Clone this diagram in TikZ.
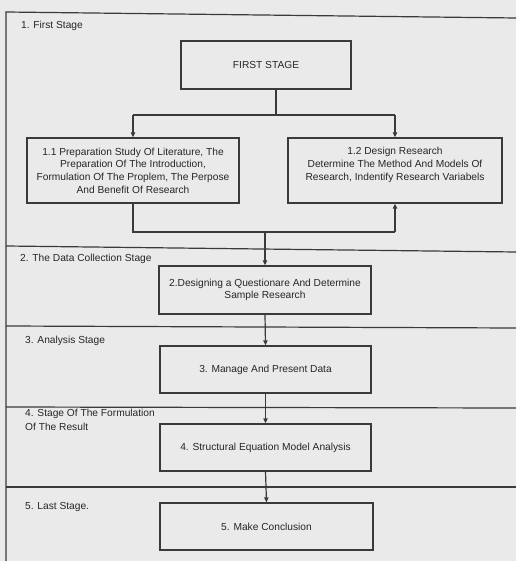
\documentclass[tikz,border=0pt]{standalone}
\usepackage{fontspec}
\setmainfont{Liberation Sans}
\usetikzlibrary{arrows.meta}
\definecolor{bg}{HTML}{EAEAEA}
\definecolor{ink}{HTML}{3A3A3A}
\definecolor{txt}{HTML}{262626}
\tikzset{
  stagebox/.style={draw=ink, line width=1.2pt, fill=none, align=center, inner sep=2pt,
    text=txt, font=\fontsize{10.2}{12.7}\selectfont},
  boxtext/.style={align=center, inner sep=0pt, text=txt, font=\fontsize{10.2}{12.7}\selectfont},
  stagelabel/.style={anchor=west, inner sep=0pt, align=left, text=txt,
    font=\fontsize{10.2}{13.5}\selectfont},
  link/.style={draw=ink, line width=1.2pt},
  arr/.style={link, -{Triangle[length=5pt,width=4.2pt]}},
  frame/.style={draw=ink, line width=1.2pt}
}
\begin{document}
\begin{tikzpicture}[x=1pt,y=-1pt]
\fill[bg] (0,0) rectangle (516,561);
\useasboundingbox (0,0) rectangle (516,561);
% frame and stage dividers
\draw[frame] (6,561) -- (6,12) -- (516,18);
\draw[frame] (6,246) -- (516,252);
\draw[frame] (6,326) -- (516,328);
\draw[frame] (6,407) -- (516,408);
\draw[frame] (6,487) -- (516,487);
% stage labels
\node[stagelabel] (l1) at (21,26) {1. First Stage};
\node[stagelabel] (l2) at (20,259) {2. The Data Collection Stage};
\node[stagelabel] (l3) at (25,341) {3. Analysis Stage};
\node[stagelabel] (l4) at (25,420) {4. Stage Of The Formulation\\Of The Result};
\node[stagelabel] (l5) at (25,507) {5. Last Stage.};
% boxes
\node[stagebox, minimum width=170pt, minimum height=48pt] (first) at (266,65) {FIRST STAGE};
\node[stagebox, minimum width=212pt, minimum height=65pt] (b11) at (133,170.5)
  {1.1 Preparation Study Of Literature, The\\Preparation Of The Introduction,\\Formulation Of The Proplem, The Perpose\\And Benefit Of Research};
\node[stagebox, minimum width=214pt, minimum height=65pt] (b12) at (395,170.5) {};
\node[boxtext] (b12t) at (395,165)
  {1.2 Design Research\\Determine The Method And Models Of\\Research, Indentify Research Variabels};
\node[stagebox, minimum width=212pt, minimum height=48pt] (b2) at (265,290)
  {2.Designing a Questionare And Determine\\Sample Research};
\node[stagebox, minimum width=211pt, minimum height=47pt] (b3) at (265.5,369.5) {3. Manage And Present Data};
\node[stagebox, minimum width=211pt, minimum height=47pt] (b4) at (265.5,447.5) {4. Structural Equation Model Analysis};
\node[stagebox, minimum width=213pt, minimum height=47pt] (b5) at (266.5,526.5) {5. Make Conclusion};
% connectors
\coordinate (j1) at (276,115);
\coordinate (j1l) at (b11.north |- j1);
\coordinate (j1r) at (b12.north |- j1);
\draw[link] (first.south -| j1) -- (j1);
\draw[link] (j1l) -- (j1r);
\draw[arr] (j1l) -- (b11.north);
\draw[arr] (j1r) -- (b12.north);
\coordinate (j2) at (265,232);
\coordinate (j2l) at (b11.south |- j2);
\coordinate (j2r) at (b12.south |- j2);
\draw[link] (b11.south) -- (j2l) -- (j2r);
\draw[arr] (j2r) -- (b12.south);
\draw[arr] (j2) -- (b2.north);
\draw[arr] (b2.south) -- (b3.north);
\draw[arr] (b3.south) -- (b4.north);
\draw[arr] (b4.south) -- (b5.north);
\end{tikzpicture}
\end{document}
